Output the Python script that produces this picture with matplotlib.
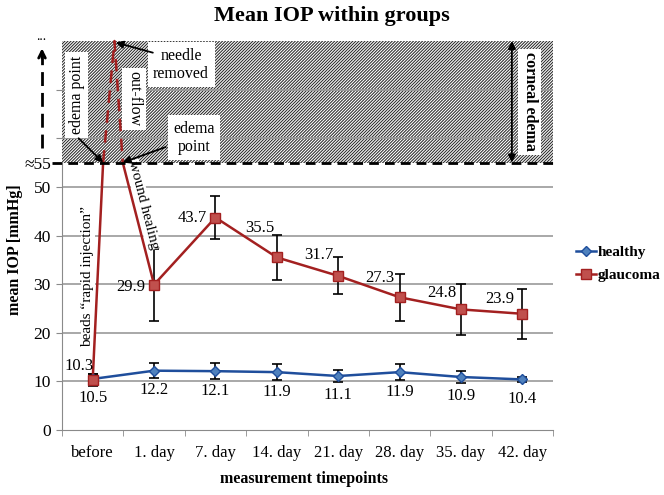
import matplotlib
matplotlib.use("Agg")
import matplotlib.pyplot as plt
from matplotlib.lines import Line2D
import numpy as np

categories = ["before", "1. day", "7. day", "14. day", "21. day", "28. day", "35. day", "42. day"]
healthy = [10.5, 12.2, 12.1, 11.9, 11.1, 11.9, 10.9, 10.4]
healthy_err = [1.0, 1.6, 1.6, 1.7, 1.3, 1.7, 1.2, 0.5]
glaucoma = [10.3, 29.9, 43.7, 35.5, 31.7, 27.3, 24.8, 23.9]
glaucoma_err = [1.2, 7.4, 4.5, 4.7, 3.8, 4.8, 5.2, 5.1]
# spike after bead injection: edema point -> needle removed -> edema point
spike_x = [0.17, 0.355, 0.49]
spike_y = [55, 80, 55]
edema_level = 55
y_top = 80
ytick_vals = [0, 10, 20, 30, 40, 50, 55, 60, 70]
ytick_labels = ["0", "10", "20", "30", "40", "50", "≈55", "", ""]

plt.rcParams['font.family'] = ['Liberation Serif', 'DejaVu Serif']
plt.rcParams['hatch.linewidth'] = 0.75

W, H = 664, 495
fig = plt.figure(figsize=(W / 100, H / 100), dpi=100)
ax = fig.add_axes([62 / W, 1 - 430 / H, 491 / W, 389 / H])
x = np.arange(len(categories))
ax.set_xlim(-0.5, 7.5)
ax.set_ylim(0, y_top)

# hatched corneal edema region
ax.fill_between([-0.5, 7.5], edema_level, y_top, facecolor='white', edgecolor='#2a2a2a',
                hatch='/' * 11, lw=0, zorder=0.5)

# grid lines
for v in [10, 20, 30, 40, 50, 60, 70]:
    ax.axhline(v, color='#9a9a9a', lw=1.2, zorder=1)

# dashed line at edema level
ax.plot([-0.66, 7.5], [edema_level, edema_level], ls=(0, (3.5, 2.2)), color='black', lw=2,
        clip_on=False, zorder=6)

# axes styling
for s in ['top', 'right']:
    ax.spines[s].set_visible(False)
ax.spines['left'].set_color('#8a8a8a')
ax.spines['bottom'].set_color('#8a8a8a')
ax.spines['left'].set_bounds(0, edema_level)
ax.set_yticks(ytick_vals, ytick_labels)
ax.tick_params(axis='y', length=4, color='#8a8a8a', labelsize=12.5, pad=4)
ax.set_xticks(x, categories)
ax.set_xticks(np.arange(-0.5, 8.0, 1.0), minor=True)
ax.tick_params(axis='x', which='major', length=0, labelsize=12, pad=11)
ax.tick_params(axis='x', which='minor', length=4, color='#8a8a8a')

blue_line = '#1F4E9C'
blue_face = '#4F81BD'
red_line = '#A32020'
red_face = '#C0504D'

# error bars
ax.errorbar(x, healthy, yerr=healthy_err, fmt='none', ecolor='black', elinewidth=1.2,
            capsize=3.5, capthick=1.2, zorder=3)
ax.errorbar(x, glaucoma, yerr=glaucoma_err, fmt='none', ecolor='black', elinewidth=1.2,
            capsize=3.5, capthick=1.2, zorder=3)

# glaucoma spike path
ax.plot([x[0], spike_x[0]], [glaucoma[0], spike_y[0]], color=red_line, lw=1.8, zorder=4)
ax.plot(spike_x, spike_y, color=red_line, lw=1.8, ls=(0, (5, 3)), zorder=4, clip_on=False)
ax.plot([spike_x[2], x[1]], [spike_y[2], glaucoma[1]], color=red_line, lw=1.8, zorder=4)

# healthy
ax.plot(x, healthy, color=blue_line, lw=1.8, marker='D', ms=5, mfc=blue_face, mec=blue_line,
        zorder=4)
# glaucoma
ax.plot(x[1:], glaucoma[1:], color=red_line, lw=1.8, zorder=4)
ax.plot(x, glaucoma, ls='none', marker='s', ms=7, mfc=red_face, mec=red_line, zorder=5)

# data labels
for xi, v in zip(x, healthy):
    ax.annotate(f"{v}", (xi, v), xytext=(0, -14), textcoords='offset points',
                ha='center', va='center', fontsize=12, zorder=7)
g_offsets = [(-10, 10), (-17, -2), (-17, 0), (-12, 21), (-14, 15), (-14, 14), (-14, 12), (-16, 11)]
for xi, v, off in zip(x, glaucoma, g_offsets):
    ax.annotate(f"{v}", (xi, v), xytext=off, textcoords='offset points',
                ha='center', va='center', fontsize=12, zorder=7)

box = dict(facecolor='white', edgecolor='none', pad=2.5)
arrow = dict(arrowstyle='-|>', color='black', lw=1.3, mutation_scale=11, shrinkA=0, shrinkB=0)

# annotations
ax.text(-0.256, 68.9, "edema point", rotation=90, ha='center', va='center', fontsize=11.5,
        bbox=box, zorder=7)
ax.annotate("", xy=(spike_x[0], edema_level), xytext=(-0.23, 60.0), arrowprops=arrow, zorder=8)
ax.text(0.673, 68.1, "out-flow", rotation=270, ha='center', va='center', fontsize=11.5,
        bbox=box, zorder=7)
ax.text(1.44, 75.1, "needle\nremoved", ha='center', va='center', fontsize=11.5,
        linespacing=1.15, bbox=dict(facecolor='white', edgecolor='none', pad=4), zorder=7)
ax.annotate("", xy=(spike_x[1] + 0.02, y_top - 0.3), xytext=(0.98, 77.6), arrowprops=arrow,
            zorder=8, annotation_clip=False)
ax.text(1.65, 60.1, "edema\npoint", ha='center', va='center', fontsize=11.5,
        linespacing=1.15, bbox=dict(facecolor='white', edgecolor='none', pad=4), zorder=7)
ax.annotate("", xy=(spike_x[2], edema_level), xytext=(1.19, 58.2), arrowprops=arrow, zorder=8)
ax.text(7.12, 67.5, "corneal edema", rotation=270, ha='center', va='center', fontsize=11.5,
        fontweight='bold', bbox=box, zorder=7)
ax.annotate("", xy=(6.83, edema_level), xytext=(6.83, y_top),
            arrowprops=dict(arrowstyle='<|-|>', color='black', lw=1.3, mutation_scale=11,
                            shrinkA=0, shrinkB=0), zorder=8, annotation_clip=False)
ax.text(-0.077, 31.5, "beads \u201crapid injection\u201d", rotation=90, ha='center', va='center',
        fontsize=11, bbox=dict(facecolor='white', edgecolor='none', pad=0.5), zorder=3.8)
ax.text(0.82, 46.3, "wound healing", rotation=-75.7, rotation_mode='anchor', ha='center',
        va='center', fontsize=11, bbox=dict(facecolor='white', edgecolor='none', pad=0.5),
        zorder=3.8)

# left dashed arrow indicating values beyond axis
ax.plot([-0.826, -0.826], [58, 77], ls=(0, (5, 2.5)), color='black', lw=2, clip_on=False, zorder=6)
ax.annotate("", xy=(-0.826, 78.5), xytext=(-0.826, 76.5),
            arrowprops=dict(arrowstyle='->', color='black', lw=2, mutation_scale=12,
                            shrinkA=0, shrinkB=0), annotation_clip=False)
ax.text(-0.84, 81.0, "...", ha='center', va='center', fontsize=10, clip_on=False)

# titles / labels
fig.text(0.5, 1 - 16 / H, "Mean IOP within groups", ha='center', va='center', fontsize=16,
         fontweight='bold')
fig.text(15 / W, 1 - 250 / H, "mean IOP [mmHg]", rotation=90, ha='center', va='center',
         fontsize=11.5, fontweight='bold')
fig.text(304 / W, 1 - 479 / H, "measurement timepoints", ha='center', va='center', fontsize=11.5,
         fontweight='bold')

handles = [Line2D([], [], color=blue_line, lw=1.8, marker='D', ms=5, mfc=blue_face, mec=blue_line),
           Line2D([], [], color=red_line, lw=1.8, marker='s', ms=7, mfc=red_face, mec=red_line)]
fig.legend(handles, ["healthy", "glaucoma"], loc='center left',
           bbox_to_anchor=(576 / W, 1 - 264 / H), frameon=False,
           prop=dict(weight='bold', size=11), handlelength=1.3, handletextpad=0.1,
           labelspacing=0.6, borderaxespad=0, borderpad=0)

fig.savefig("out.png", dpi=100)
